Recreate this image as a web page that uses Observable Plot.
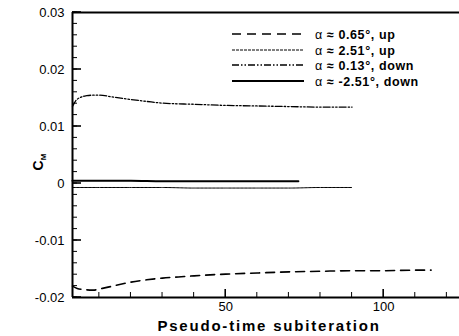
<!DOCTYPE html>
<html><head><meta charset="utf-8">
<script src="https://cdn.jsdelivr.net/npm/d3@7"></script>
<script src="https://cdn.jsdelivr.net/npm/@observablehq/plot@0.6"></script>
<style>
body{margin:0;background:#fff;}
#chart{position:relative;width:459px;height:336px;}
</style>
</head><body><div id="chart"></div>
<script>
// Series: alpha = 0.65 deg, up (dashed)
const aX = [1.5, 3, 5, 8, 11, 15, 20, 25, 30, 35, 40, 50, 60, 70, 80, 90, 100, 110, 115];
const aY = [-0.0180, -0.0184, -0.0186, -0.0187, -0.0184, -0.0179, -0.0173, -0.0169, -0.0166, -0.0164, -0.0162, -0.0159, -0.0157, -0.0155, -0.0154, -0.0153, -0.0153, -0.0152, -0.0152];
// alpha = 2.51 deg, up (thin)
const bX = [1.5, 10, 20, 30, 40, 50, 60, 70, 80, 90];
const bY = [-0.0007, -0.0007, -0.0007, -0.0007, -0.0008, -0.0008, -0.0008, -0.0008, -0.0007, -0.0007];
// alpha = 0.13 deg, down (dash-dot-dot)
const cX = [1.5, 2.5, 4, 6, 8, 10, 14, 19, 25, 30, 40, 50, 60, 70, 80, 90];
const cY = [0.0135, 0.0145, 0.0151, 0.0154, 0.0155, 0.0155, 0.0152, 0.0148, 0.0144, 0.0141, 0.0139, 0.0137, 0.0136, 0.0135, 0.0134, 0.0134];
// alpha = -2.51 deg, down (solid)
const dX = [1.5, 10, 20, 30, 40, 50, 60, 73];
const dY = [0.0005, 0.0005, 0.0005, 0.0004, 0.0004, 0.0004, 0.0004, 0.0004];

const legendLabels = ["0.65°, up", "2.51°, up", "0.13°, down", "-2.51°, down"];
const dashes = ["9,6", "3,1", "7,2,1.5,2,1.5,2", null];
const widths = [1.6, 1, 1.3, 2];

const xDomain = [1.5, 124];
const yDomain = [-0.02, 0.03];
const yMajor = [-0.02, -0.01, 0, 0.01, 0.02, 0.03];
const yMinor = d3.range(-0.02, 0.0301, 0.002);
const xMajor = [50, 100];
const xMinor = [10, 20, 30, 40, 60, 70, 80, 90, 110, 120];

const xLabel = "Pseudo-time subiteration";

const toRows = (xs, ys) => xs.map((x, i) => ({x, y: ys[i]}));
const series = [toRows(aX, aY), toRows(bX, bY), toRows(cX, cY), toRows(dX, dY)];

const font = "'Liberation Sans', Arial, sans-serif";

const plot = Plot.plot({
  width: 459, height: 336,
  marginLeft: 72, marginRight: 0, marginTop: 12, marginBottom: 39,
  x: {domain: xDomain},
  y: {domain: yDomain},
  style: {fontFamily: font, fontSize: "13px", color: "#000", background: "#fff"},
  marks: [
    Plot.ruleY([yDomain[1]], {stroke: "#000", strokeWidth: 2}),
    Plot.ruleY([yDomain[0]], {stroke: "#000", strokeWidth: 2}),
    Plot.ruleX([xDomain[0]], {stroke: "#000", strokeWidth: 2}),
    Plot.axisY(yMajor, {tickSize: 0, tickPadding: 8, tickFormat: d => d === 0 ? "0" : d.toFixed(2), label: null, fontSize: 13}),
    Plot.axisX(xMajor, {tickSize: 0, tickPadding: 4, label: null, fontSize: 13}),
    ...series.map((s, i) => Plot.line(s, {x: "x", y: "y", stroke: "#000", strokeWidth: widths[i], strokeDasharray: dashes[i], curve: "monotone-x"}))
  ]
});

document.getElementById("chart").appendChild(plot);
const svg = d3.select(plot);
const sx = plot.scale("x"), sy = plot.scale("y");

// inward ticks, positioned through Plot's scales
const tg = svg.append("g").attr("stroke", "#000");
const x0 = sx.apply(xDomain[0]), yb = sy.apply(yDomain[0]);
yMinor.forEach(v => tg.append("line").attr("x1", x0).attr("x2", x0 + 5).attr("y1", sy.apply(v)).attr("y2", sy.apply(v)).attr("stroke-width", 1));
yMajor.forEach(v => tg.append("line").attr("x1", x0).attr("x2", x0 + 9).attr("y1", sy.apply(v)).attr("y2", sy.apply(v)).attr("stroke-width", 1.6));
xMinor.forEach(v => tg.append("line").attr("x1", sx.apply(v)).attr("x2", sx.apply(v)).attr("y1", yb).attr("y2", yb - 5).attr("stroke-width", 1));
xMajor.forEach(v => tg.append("line").attr("x1", sx.apply(v)).attr("x2", sx.apply(v)).attr("y1", yb).attr("y2", yb - 8).attr("stroke-width", 1.6));

// x axis title
svg.append("text").attr("x", 269).attr("y", 331).attr("text-anchor", "middle")
  .attr("font-family", font).attr("font-size", 15).attr("font-weight", "bold")
  .attr("letter-spacing", "1.8px").text(xLabel);

// y axis title C_M
const yt = svg.append("text").attr("transform", "translate(43,162) rotate(-90)")
  .attr("text-anchor", "middle").attr("font-family", font).attr("font-size", 14).attr("font-weight", "bold");
yt.append("tspan").text("C");
yt.append("tspan").attr("font-size", 8).attr("dy", 3).text("M");

// legend
const ly = [34, 50, 65, 81];
legendLabels.forEach((lab, i) => {
  svg.append("line").attr("x1", 232).attr("x2", 304).attr("y1", ly[i]).attr("y2", ly[i])
    .attr("stroke", "#000").attr("stroke-width", widths[i]).attr("stroke-dasharray", dashes[i]);
  const t = svg.append("text").attr("x", 315).attr("y", ly[i] + 4.5).attr("text-anchor", "start")
    .attr("font-family", font).attr("font-size", 12.5).attr("font-weight", "bold").attr("letter-spacing", "0.6px");
  t.append("tspan").attr("font-weight", "normal").text("α");
  t.append("tspan").text(" ≈ " + lab);
});
</script></body></html>
